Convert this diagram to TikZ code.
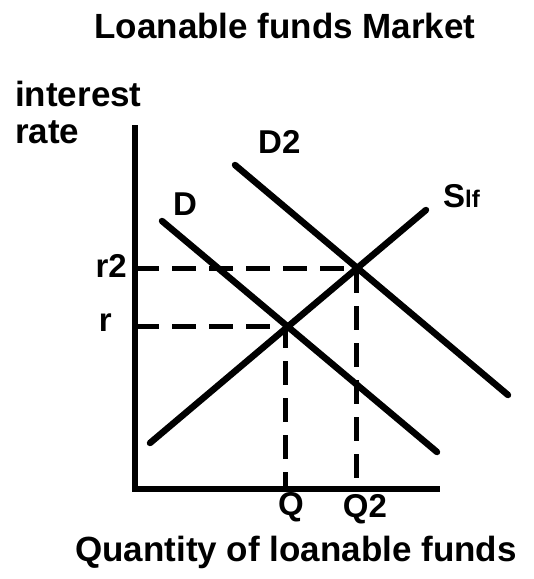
\documentclass[tikz,border=0pt]{standalone}
\usepackage{fontspec}
\setmainfont{Liberation Sans}

\begin{document}
\begin{tikzpicture}[x=1pt, y=-1pt,
  every node/.style={inner sep=0pt, font=\bfseries\fontsize{35}{37}\selectfont},
  lbl/.style={font=\bfseries\fontsize{33}{35}\selectfont},
  axis/.style={line width=5.5pt},
  curve/.style={line width=6.5pt, line cap=round},
  guide/.style={line width=5pt, dash pattern=on 24pt off 13pt}]
\useasboundingbox (0,0) rectangle (534,579);
% titles
\node[anchor=base] (title) at (285,38) {Loanable funds Market};
\node[anchor=base west, align=left] (ylabel) at (15,143) {interest\\rate};
\node[anchor=base] (xlabel) at (296,561) {Quantity of loanable funds};
% axes
\coordinate (top) at (135,125);
\coordinate (origin) at (135,489);
\coordinate (xend) at (440,489);
\draw[axis] (top) -- (origin) -- (xend);
% curves
\coordinate (s1) at (150,443);
\coordinate (s2) at (426,210);
\coordinate (d1) at (162,221);
\coordinate (d2) at (437,452);
\coordinate (dd1) at (235,165);
\coordinate (dd2) at (508,395);
\coordinate (e1) at (285,326);
\coordinate (e2) at (356,268);
\draw[guide] (origin |- e1) -- (e1) -- (e1 |- origin);
\draw[guide] (origin |- e2) -- (e2) -- (e2 |- origin);
\draw[curve] (s1) -- (s2);
\draw[curve] (d1) -- (d2);
\draw[curve] (dd1) -- (dd2);
% labels
\node[lbl, anchor=base east] (r2) at (127,277) {r2};
\node[lbl, anchor=base east] (r) at (112,331) {r};
\node[lbl, anchor=base west] (dlab) at (173,215) {D};
\node[lbl, anchor=base west] (d2lab) at (258,153) {D2};
\node[lbl, anchor=base west] (slab) at (443,207) {S{\fontsize{24}{24}\selectfont lf}};
\node[lbl, anchor=base] (q) at (291,515) {Q};
\node[lbl, anchor=base] (q2) at (365,517) {Q2};
\end{tikzpicture}
\end{document}
